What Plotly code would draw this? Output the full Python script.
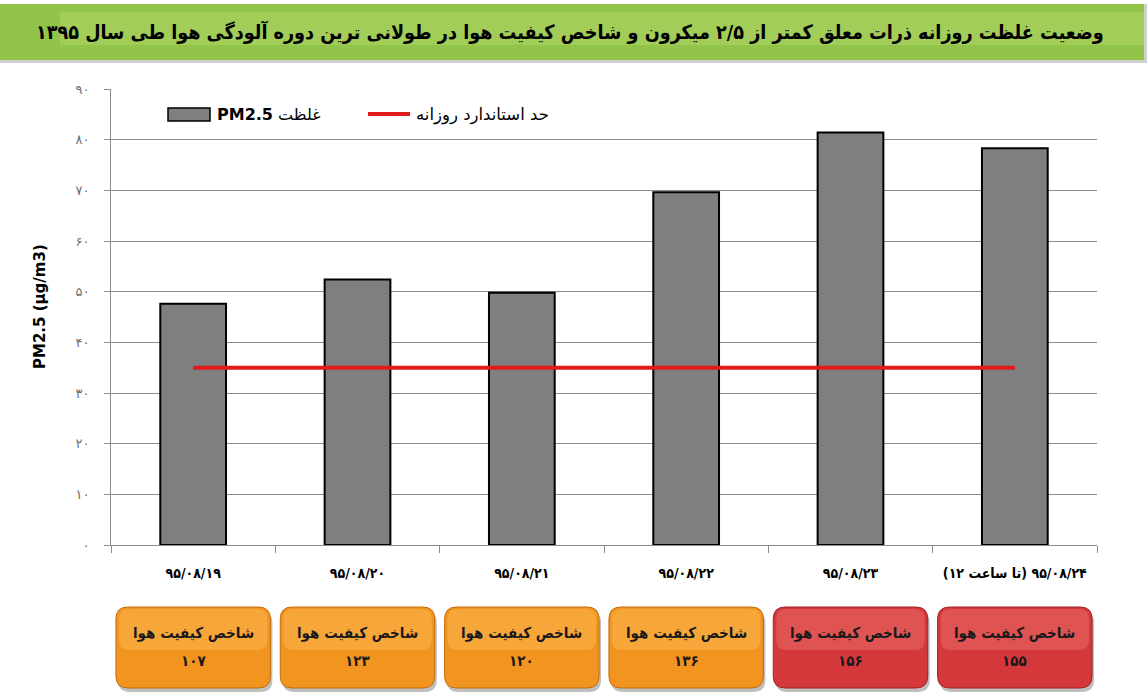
import plotly.graph_objects as go

# ---------------- data ----------------
dates = ["۹۵/۰۸/۱۹", "۹۵/۰۸/۲۰", "۹۵/۰۸/۲۱", "۹۵/۰۸/۲۲", "۹۵/۰۸/۲۳",
         "\u200f۹۵/۰۸/۲۴ (تا ساعت ۱۲)\u200f"]
pm25 = [47.6, 52.4, 49.8, 69.6, 81.4, 78.3]
standard = [35, 35, 35, 35, 35, 35]
aqi = [107, 123, 120, 136, 156, 155]
yticks = [0, 10, 20, 30, 40, 50, 60, 70, 80, 90]

title_text = "وضعیت غلظت روزانه ذرات معلق کمتر از ۲/۵ میکرون و شاخص کیفیت هوا در طولانی ترین دوره آلودگی هوا طی سال ۱۳۹۵"
legend_bar = "<b>PM2.5</b> غلظت"
legend_line = "حد استاندارد روزانه"
aqi_label = "شاخص کیفیت هوا"
y_title = "PM2.5 (µg/m3)"

FA = "۰۱۲۳۴۵۶۷۸۹"


def to_fa(n):
    return "".join(FA[int(c)] if c.isdigit() else c for c in str(n))


FONT = "DejaVu Sans, Noto Sans, sans-serif"
FONT_C = "DejaVu Sans Condensed, DejaVu Sans, sans-serif"

fig = go.Figure()
fig.add_trace(go.Bar(x=dates, y=pm25, width=0.4,
                     marker=dict(color="#7f7f7f", line=dict(color="#000000", width=2)),
                     showlegend=False))
fig.add_trace(go.Scatter(x=dates, y=standard, mode="lines",
                         line=dict(color="#e3191c", width=4), showlegend=False))

W, H = 1147, 699
ML, MR, MT, MB = 111, 50, 89, 154
PW = W - ML - MR
PH = H - MT - MB


def px(xp):
    return (xp - ML) / PW


def py(yp):
    return (H - MB - yp) / PH


shapes = []
annotations = []

# title banner
shapes.append(dict(type="rect", xref="paper", yref="paper",
                   x0=px(0), x1=px(W), y0=py(63), y1=py(4),
                   fillcolor="#cfcfcf", line=dict(width=0), layer="below"))
shapes.append(dict(type="rect", xref="paper", yref="paper",
                   x0=px(0), x1=px(W - 3), y0=py(60), y1=py(4),
                   fillcolor="#92c449", line=dict(width=0), layer="below"))
shapes.append(dict(type="rect", xref="paper", yref="paper",
                   x0=px(60), x1=px(W - 3), y0=py(45), y1=py(12),
                   fillcolor="#abd462", opacity=0.6, line=dict(width=0), layer="below"))
annotations.append(dict(text="<b>" + title_text + "</b>", xref="paper", yref="paper",
                        x=px(1106), y=py(32), xanchor="right", yanchor="middle",
                        showarrow=False, font=dict(family=FONT_C, size=19.6, color="#000000")))

# y title
annotations.append(dict(text="<b>" + y_title + "</b>", xref="paper", yref="paper",
                        x=px(40), y=py(307), textangle=-90, xanchor="center", yanchor="middle",
                        showarrow=False, font=dict(family=FONT, size=15, color="#000000")))

# manual legend
shapes.append(dict(type="rect", xref="paper", yref="paper",
                   x0=px(168), x1=px(210), y0=py(121), y1=py(108),
                   fillcolor="#7f7f7f", line=dict(color="#000000", width=1.5)))
annotations.append(dict(text=legend_bar, xref="paper", yref="paper",
                        x=px(215), y=py(115), xanchor="left", yanchor="middle",
                        showarrow=False, font=dict(family=FONT, size=16, color="#000000")))
shapes.append(dict(type="line", xref="paper", yref="paper",
                   x0=px(368), x1=px(410), y0=py(114), y1=py(114),
                   line=dict(color="#e3191c", width=4)))
annotations.append(dict(text=legend_line, xref="paper", yref="paper",
                        x=px(414), y=py(115), xanchor="left", yanchor="middle",
                        showarrow=False, font=dict(family=FONT, size=16.5, color="#000000")))


def rounded(x0, x1, y0, y1, r_px=12):
    rx = r_px / PW
    ry = r_px / PH
    return (f"M {x0+rx},{y0} L {x1-rx},{y0} Q {x1},{y0} {x1},{y0+ry} "
            f"L {x1},{y1-ry} Q {x1},{y1} {x1-rx},{y1} L {x0+rx},{y1} "
            f"Q {x0},{y1} {x0},{y1-ry} L {x0},{y0+ry} Q {x0},{y0} {x0+rx},{y0} Z")


n = len(dates)
for i, v in enumerate(aqi):
    cx = (i + 0.5) / n
    hw = 0.47 / n
    x0, x1 = cx - hw, cx + hw
    yb, yt = py(688), py(607)
    if v > 150:
        base, light, edge = "#d5383a", "#e86a66", "#9e2224"
    else:
        base, light, edge = "#f29420", "#fbb54e", "#c06d10"
    # shadow
    shapes.append(dict(type="path", xref="paper", yref="paper",
                       path=rounded(x0 + 2 / PW, x1 + 2 / PW, yb - 4 / PH, yt - 4 / PH),
                       fillcolor="rgba(0,0,0,0.25)", line=dict(width=0)))
    shapes.append(dict(type="path", xref="paper", yref="paper",
                       path=rounded(x0, x1, yb, yt),
                       fillcolor=base, line=dict(color=edge, width=1)))
    shapes.append(dict(type="path", xref="paper", yref="paper",
                       path=rounded(x0 + 3 / PW, x1 - 3 / PW, py(650), yt - 2 / PH, 10),
                       fillcolor=light, opacity=0.55, line=dict(width=0)))
    annotations.append(dict(text="<b>" + aqi_label + "</b>", xref="paper", yref="paper",
                            x=cx, y=py(633), xanchor="center", yanchor="middle",
                            showarrow=False, font=dict(family=FONT_C, size=15, color="#1a1a1a")))
    annotations.append(dict(text="<b>" + to_fa(v) + "</b>", xref="paper", yref="paper",
                            x=cx, y=py(661), xanchor="center", yanchor="middle",
                            showarrow=False, font=dict(family=FONT_C, size=15, color="#1a1a1a")))

fig.update_layout(
    width=W, height=H,
    margin=dict(l=ML, r=MR, t=MT, b=MB, autoexpand=False),
    paper_bgcolor="#ffffff", plot_bgcolor="#ffffff",
    showlegend=False,
    shapes=shapes, annotations=annotations,
    xaxis=dict(type="category", range=[-0.5, n - 0.5], showgrid=False,
               showline=True, linecolor="#8c8c8c", linewidth=1,
               ticks="outside", tickson="boundaries", ticklen=7, tickcolor="#8c8c8c",
               ticklabelstandoff=15, tickangle=0, automargin=False,
               tickfont=dict(family=FONT_C, size=14, color="#000000", weight="bold"),
               zeroline=False),
    yaxis=dict(range=[0, 90], tickvals=yticks, ticktext=[to_fa(t) for t in yticks],
               showgrid=True, gridcolor="#8c8c8c", gridwidth=1,
               showline=True, linecolor="#8c8c8c", linewidth=1,
               ticks="outside", ticklen=6, tickcolor="#8c8c8c",
               ticklabelstandoff=12, automargin=False,
               tickfont=dict(family=FONT, size=13, color="#6e6e6e"), zeroline=False),
)

fig.write_html("out.html", config={"displayModeBar": False},
               post_script="document.body.style.margin='0';")
